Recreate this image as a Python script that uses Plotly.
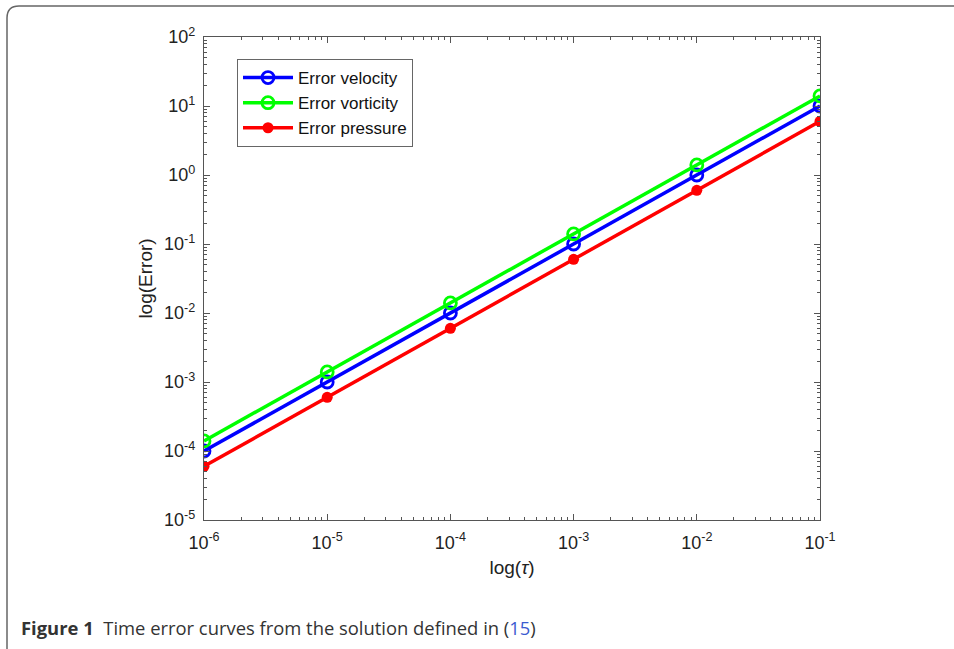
import plotly.graph_objects as go

tau = [1e-6, 1e-5, 1e-4, 1e-3, 1e-2, 1e-1]
err_velocity = [1.0e-4, 1.0e-3, 1.0e-2, 1.0e-1, 1.0, 10.0]
err_vorticity = [1.4e-4, 1.4e-3, 1.4e-2, 1.4e-1, 1.4, 14.0]
err_pressure = [6.0e-5, 6.0e-4, 6.0e-3, 6.0e-2, 0.6, 6.0]

x_tickvals = [1e-6, 1e-5, 1e-4, 1e-3, 1e-2, 1e-1]
x_ticktext = ["10<sup>-6</sup>", "10<sup>-5</sup>", "10<sup>-4</sup>", "10<sup>-3</sup>", "10<sup>-2</sup>", "10<sup>-1</sup>"]
y_tickvals = [1e-5, 1e-4, 1e-3, 1e-2, 1e-1, 1e0, 1e1, 1e2]
y_ticktext = ["10<sup>-5</sup>", "10<sup>-4</sup>", "10<sup>-3</sup>", "10<sup>-2</sup>", "10<sup>-1</sup>", "10<sup>0</sup>", "10<sup>1</sup>", "10<sup>2</sup>"]

W, H = 954, 649
L, R, T, B = 204, 820, 37, 520

fig = go.Figure()
fig.add_trace(go.Scatter(x=tau, y=err_velocity, mode="lines+markers", name="Error velocity",
                         line=dict(color="#0000FF", width=3.5),
                         marker=dict(symbol="circle-open", size=12, line=dict(width=2.8, color="#0000FF"))))
fig.add_trace(go.Scatter(x=tau, y=err_vorticity, mode="lines+markers", name="Error vorticity",
                         line=dict(color="#00FF00", width=3.5),
                         marker=dict(symbol="circle-open", size=12, line=dict(width=2.8, color="#00FF00"))))
fig.add_trace(go.Scatter(x=tau, y=err_pressure, mode="lines+markers", name="Error pressure",
                         line=dict(color="#FF0000", width=3.5),
                         marker=dict(symbol="circle", size=11, color="#FF0000")))

FONT = "Liberation Sans, Arial, sans-serif"
axis_common = dict(
    type="log", showgrid=False, zeroline=False, showline=True, mirror="ticks",
    linecolor="#555555", linewidth=1.2, ticks="inside", ticklen=6, tickcolor="#555555",
    tickfont=dict(family=FONT, size=18, color="#222222"),
    minor=dict(ticks="inside", ticklen=3, tickcolor="#555555", dtick="D1", showgrid=False),
)

fig.update_xaxes(**axis_common, range=[-6, -1], tickmode="array", tickvals=x_tickvals, ticktext=x_ticktext,
                 ticklabelstandoff=6,
                 title=dict(text="log(<i>τ</i>)", font=dict(family=FONT, size=19, color="#222222"), standoff=8))
fig.update_yaxes(**axis_common, range=[-5, 2], tickmode="array", tickvals=y_tickvals, ticktext=y_ticktext,
                 ticklabelstandoff=4,
                 title=dict(text="log(Error)", font=dict(family=FONT, size=19, color="#222222"), standoff=6))

pw, ph = R - L, B - T
def px(x):
    return (x - L) / pw
def py(y):
    return (B - y) / ph

# Card frame (rounded top-left corner)
x0, y0, yb, xr, r = 7, 6, 655, 960, 12
path = (f"M {px(x0)} {py(yb)} L {px(x0)} {py(y0 + r)} "
        f"Q {px(x0)} {py(y0)} {px(x0 + r)} {py(y0)} L {px(xr)} {py(y0)}")
fig.add_shape(type="path", path=path, xref="paper", yref="paper",
              line=dict(color="#666666", width=1.5), layer="above")

fig.add_annotation(
    x=px(19), y=py(627), xref="paper", yref="paper", xanchor="left", yanchor="middle",
    showarrow=False,
    text="<b>Figure 1</b>  Time error curves from the solution defined in (<span style='color:#3b5bd0'>15</span>)",
    font=dict(family="Open Sans, Noto Sans, sans-serif", size=18.4, color="#333333"),
)

fig.update_layout(
    width=W, height=H,
    margin=dict(l=L, r=W - R, t=T, b=H - B, autoexpand=False),
    paper_bgcolor="white", plot_bgcolor="white",
    showlegend=True,
    legend=dict(x=px(237), y=py(59), xanchor="left", yanchor="top",
                bgcolor="white", bordercolor="#666666", borderwidth=1,
                font=dict(family=FONT, size=17, color="#111111"),
                itemwidth=50, tracegroupgap=0),
)

fig.write_html("out.html", config={"displayModeBar": False},
               post_script="document.body.style.margin='0px';")
